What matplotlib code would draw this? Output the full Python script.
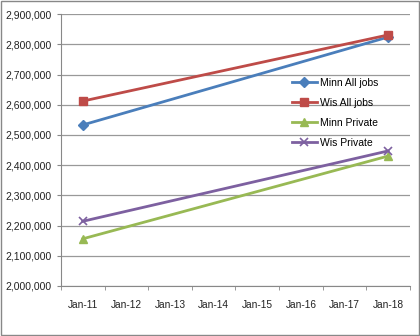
import matplotlib.pyplot as plt
from matplotlib.ticker import FuncFormatter, FixedLocator
import numpy as np

months = ['Jan-11', 'Jan-12', 'Jan-13', 'Jan-14', 'Jan-15', 'Jan-16', 'Jan-17', 'Jan-18']
data_idx = [0, 7]  # only first and last month have values

minn_all = [2533000, 2824000]
wis_all = [2612000, 2831000]
minn_private = [2156000, 2430000]
wis_private = [2214000, 2447000]

series = [
    ('Minn All jobs', minn_all, '#4A7EBB', 'D'),
    ('Wis All jobs', wis_all, '#BE4B48', 's'),
    ('Minn Private', minn_private, '#98B954', '^'),
    ('Wis Private', wis_private, '#7D60A0', 'x'),
]

plt.rcParams['font.family'] = ['Liberation Sans', 'DejaVu Sans']

fig = plt.figure(figsize=(4.2, 3.36), dpi=100)
ax = fig.add_axes([0.145, 0.149, 0.831, 0.809])

for label, vals, color, marker in series:
    if marker == 'x':
        ax.plot(data_idx, vals, color=color, lw=2, marker='x', ms=6, mew=1.2, label=label)
    else:
        ms = 5 if marker == 'D' else 6
        ax.plot(data_idx, vals, color=color, lw=2, marker=marker, ms=ms, label=label)

ax.set_xlim(-0.5, 7.5)
ax.set_ylim(2000000, 2900000)
ax.set_yticks(np.arange(2000000, 2900001, 100000))
ax.yaxis.set_major_formatter(FuncFormatter(lambda v, p: '{:,.0f}'.format(v)))
ax.set_xticks(range(len(months)))
ax.set_xticklabels(months)
ax.xaxis.set_minor_locator(FixedLocator(np.arange(-0.5, 8, 1)))
ax.tick_params(axis='x', which='major', length=0, pad=10, labelsize=7.3, colors='#222222')
ax.tick_params(axis='x', which='minor', length=3, color='#888888')
ax.tick_params(axis='y', length=3, color='#888888', labelsize=7.5, colors='#222222')

ax.grid(axis='y', color='#999999', lw=0.9)
ax.set_axisbelow(True)
for s in ['top', 'right']:
    ax.spines[s].set_visible(False)
for s in ['left', 'bottom']:
    ax.spines[s].set_color('#888888')

ax.legend(loc='upper left', bbox_to_anchor=(0.635, 0.8), frameon=False,
          fontsize=7.5, handlelength=2.4, labelspacing=0.95, handletextpad=0.3)

fig.patches.append(plt.Rectangle((0.002, 0.002), 0.995, 0.995, transform=fig.transFigure,
                                 fill=False, edgecolor='#888888', lw=1))

plt.savefig('out.png')
